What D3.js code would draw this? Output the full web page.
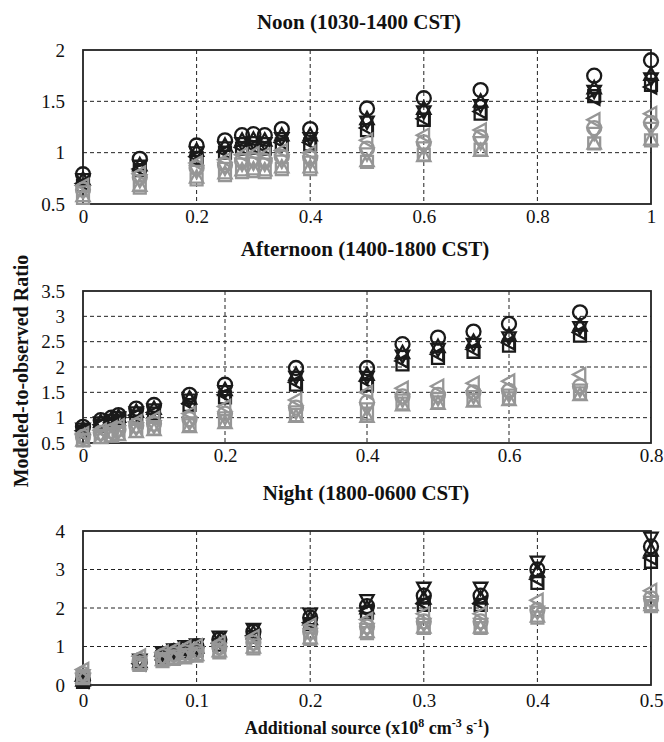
<!DOCTYPE html>
<html><head><meta charset="utf-8">
<script src="https://cdn.jsdelivr.net/npm/d3@7"></script>
<style>body{margin:0;background:#fff}svg{display:block}</style>
</head><body>
<script>
// ---------- DATA ----------
const shapes = ["circle","triUp","triDown","triLeft","square"];

const noonX = [0, 0.1, 0.2, 0.25, 0.28, 0.3, 0.32, 0.35, 0.4, 0.5, 0.6, 0.7, 0.9, 1.0];
const noonBlack = {
  circle:  [0.79,0.94,1.07,1.12,1.17,1.18,1.17,1.23,1.23,1.43,1.53,1.61,1.75,1.90],
  triUp:   [0.74,0.88,1.02,1.07,1.12,1.13,1.12,1.17,1.17,1.33,1.43,1.50,1.63,1.76],
  triDown: [0.74,0.87,1.00,1.05,1.09,1.10,1.09,1.14,1.14,1.30,1.40,1.46,1.60,1.72],
  triLeft: [0.70,0.84,0.96,1.01,1.05,1.06,1.05,1.10,1.10,1.24,1.33,1.40,1.53,1.64],
  square:  [0.68,0.83,0.95,1.00,1.04,1.05,1.04,1.08,1.08,1.22,1.32,1.38,1.55,1.66]
};
const noonGray = {
  triLeft: [0.68,0.80,0.90,0.93,0.98,0.99,0.98,1.02,1.00,1.12,1.17,1.22,1.32,1.38],
  circle:  [0.64,0.76,0.85,0.88,0.92,0.93,0.92,0.96,0.95,1.04,1.10,1.15,1.24,1.29],
  triDown: [0.62,0.73,0.82,0.85,0.89,0.90,0.89,0.92,0.91,0.99,1.05,1.10,1.19,1.24],
  square:  [0.56,0.66,0.74,0.78,0.81,0.82,0.81,0.84,0.84,0.91,0.98,1.03,1.09,1.12],
  triUp:   [0.58,0.68,0.76,0.80,0.83,0.84,0.83,0.86,0.86,0.92,0.97,1.02,1.09,1.13]
};

const aftX = [0, 0.025, 0.04, 0.05, 0.075, 0.1, 0.15, 0.2, 0.3, 0.4, 0.45, 0.5, 0.55, 0.6, 0.7];
const aftBlack = {
  circle:  [0.82,0.95,1.00,1.05,1.18,1.25,1.45,1.65,1.98,1.98,2.45,2.58,2.70,2.85,3.08],
  triUp:   [0.78,0.92,0.97,1.02,1.12,1.18,1.38,1.55,1.85,1.85,2.28,2.40,2.50,2.62,2.82],
  triDown: [0.78,0.90,0.95,1.00,1.10,1.16,1.35,1.52,1.80,1.80,2.22,2.35,2.45,2.58,2.78],
  triLeft: [0.74,0.86,0.90,0.95,1.05,1.10,1.28,1.45,1.70,1.72,2.12,2.25,2.35,2.48,2.68],
  square:  [0.72,0.84,0.88,0.92,1.02,1.08,1.25,1.40,1.65,1.65,2.05,2.18,2.30,2.42,2.62]
};
const aftGray = {
  triLeft: [0.68,0.75,0.80,0.84,0.92,0.98,1.08,1.22,1.35,1.50,1.58,1.62,1.68,1.72,1.85],
  circle:  [0.62,0.70,0.73,0.77,0.84,0.88,0.97,1.08,1.20,1.30,1.42,1.45,1.50,1.53,1.62],
  triDown: [0.58,0.66,0.69,0.73,0.79,0.83,0.90,1.00,1.12,1.18,1.35,1.38,1.42,1.45,1.55],
  square:  [0.55,0.62,0.65,0.68,0.74,0.78,0.85,0.93,1.05,1.08,1.28,1.30,1.35,1.38,1.48],
  triUp:   [0.55,0.60,0.63,0.66,0.72,0.76,0.82,0.90,1.02,1.02,1.25,1.28,1.32,1.35,1.45]
};

const nightX = [0, 0.05, 0.07, 0.08, 0.09, 0.1, 0.12, 0.15, 0.2, 0.25, 0.3, 0.35, 0.4, 0.5];
const nightBlack = {
  triDown: [0.15,0.65,0.85,0.92,1.00,1.05,1.25,1.45,1.85,2.20,2.52,2.52,3.20,3.82],
  circle:  [0.12,0.60,0.80,0.88,0.95,1.00,1.18,1.38,1.75,2.05,2.32,2.32,3.00,3.60],
  triUp:   [0.12,0.60,0.80,0.87,0.93,0.98,1.15,1.35,1.72,2.00,2.25,2.25,2.95,3.50],
  triLeft: [0.10,0.55,0.75,0.82,0.88,0.92,1.08,1.28,1.62,1.92,2.12,2.12,2.75,3.30],
  square:  [0.08,0.52,0.72,0.80,0.85,0.90,1.05,1.25,1.58,1.88,2.08,2.08,2.65,3.20]
};
const nightGray = {
  triLeft: [0.40,0.75,0.85,0.92,0.98,1.02,1.10,1.25,1.55,1.70,1.85,1.85,2.20,2.45],
  circle:  [0.28,0.65,0.75,0.80,0.85,0.88,0.98,1.10,1.38,1.52,1.65,1.65,1.95,2.25],
  triDown: [0.25,0.60,0.70,0.76,0.80,0.84,0.94,1.05,1.32,1.45,1.58,1.58,1.90,2.15],
  square:  [0.18,0.52,0.62,0.68,0.72,0.76,0.85,0.95,1.20,1.35,1.48,1.48,1.75,2.05],
  triUp:   [0.20,0.55,0.65,0.70,0.74,0.78,0.88,0.98,1.22,1.38,1.50,1.50,1.78,2.08]
};

const noonXTicks = [0,0.2,0.4,0.6,0.8,1];
const noonYTicks = [0.5,1,1.5,2];
const aftXTicks = [0,0.2,0.4,0.6,0.8];
const aftYTicks = [0.5,1,1.5,2,2.5,3,3.5];
const nightXTicks = [0,0.1,0.2,0.3,0.4,0.5];
const nightYTicks = [0,1,2,3,4];

const titles = ["Noon (1030-1400 CST)","Afternoon (1400-1800 CST)","Night (1800-0600 CST)"];

// ---------- DRAW ----------
const W = 664, H = 742;
const svg = d3.select("body").append("svg").attr("width",W).attr("height",H);
const FONT = "'Liberation Serif','Times New Roman',serif";
const BLACK = "#1a1a1a", GRAY = "#969696";

function shapePath(type, r){
  switch(type){
    case "circle": return d3.symbol(d3.symbolCircle, Math.PI*r*r)();
    case "square": return `M${-r*0.85},${-r*0.85}H${r*0.85}V${r*0.85}H${-r*0.85}Z`;
    case "triUp": return `M0,${-r}L${r*0.95},${r*0.75}L${-r*0.95},${r*0.75}Z`;
    case "triDown": return `M0,${r}L${r*0.95},${-r*0.75}L${-r*0.95},${-r*0.75}Z`;
    case "triLeft": return `M${-r},0L${r*0.75},${-r*0.95}L${r*0.75},${r*0.95}Z`;
  }
}

const panels = [
  {title:titles[0], xs:noonX, black:noonBlack, gray:noonGray, xd:[0,1], yd:[0.5,2], xt:noonXTicks, yt:noonYTicks, top:50, bottom:204, titleY:29, titleX:359, xpad:6},
  {title:titles[1], xs:aftX, black:aftBlack, gray:aftGray, xd:[0,0.8], yd:[0.5,3.5], xt:aftXTicks, yt:aftYTicks, top:291, bottom:443, titleY:256, titleX:365, xpad:6},
  {title:titles[2], xs:nightX, black:nightBlack, gray:nightGray, xd:[0,0.5], yd:[0,4], xt:nightXTicks, yt:nightYTicks, top:531, bottom:685, titleY:500, titleX:366, xpad:9}
];
const left = 83, right = 651;

panels.forEach(p=>{
  const x = d3.scaleLinear().domain(p.xd).range([left,right]);
  const y = d3.scaleLinear().domain(p.yd).range([p.bottom,p.top]);
  const g = svg.append("g");
  // grid
  g.selectAll(".gy").data(p.yt.slice(1,-1)).join("line")
    .attr("x1",left).attr("x2",right).attr("y1",d=>y(d)).attr("y2",d=>y(d))
    .attr("stroke","#222").attr("stroke-width",1).attr("stroke-dasharray","4,3");
  g.selectAll(".gx").data(p.xt.slice(1,-1)).join("line")
    .attr("y1",p.top).attr("y2",p.bottom).attr("x1",d=>x(d)).attr("x2",d=>x(d))
    .attr("stroke","#222").attr("stroke-width",1).attr("stroke-dasharray","4,3");
  // axes
  const xa = g.append("g").attr("transform",`translate(0,${p.bottom})`)
    .call(d3.axisBottom(x).tickValues(p.xt).tickSize(0).tickPadding(p.xpad).tickFormat(d3.format("~g")));
  const ya = g.append("g").attr("transform",`translate(${left},0)`)
    .call(d3.axisLeft(y).tickValues(p.yt).tickSize(0).tickPadding(18).tickFormat(d3.format("~g")));
  [xa,ya].forEach(a=>{
    a.select(".domain").remove();
    a.selectAll("text").attr("font-family",FONT).attr("font-size",19).attr("fill","#111");
  });
  // border
  g.append("rect").attr("x",left).attr("y",p.top).attr("width",right-left).attr("height",p.bottom-p.top)
    .attr("fill","none").attr("stroke","#222").attr("stroke-width",1.8);
  // title
  svg.append("text").attr("x",p.titleX).attr("y",p.titleY).attr("text-anchor","middle")
    .attr("font-family",FONT).attr("font-weight","bold").attr("font-size",21).attr("fill","#111").text(p.title);
  // markers
  [[p.black,BLACK],[p.gray,GRAY]].forEach(([grp,col])=>{
    Object.keys(grp).forEach(sh=>{
      const pts = p.xs.map((xv,i)=>({x:xv,y:grp[sh][i]}));
      g.append("g").selectAll("path").data(pts).join("path")
        .attr("transform",d=>`translate(${x(d.x)},${y(d.y)})`)
        .attr("d",shapePath(sh,7))
        .attr("fill","none").attr("stroke",col).attr("stroke-width",2.3);
    });
  });
});

// axis titles
svg.append("text").attr("transform","translate(28,371) rotate(-90)").attr("text-anchor","middle")
  .attr("font-family",FONT).attr("font-weight","bold").attr("font-size",20).attr("fill","#111")
  .text("Modeled-to-observed Ratio");
const xt = svg.append("text").attr("x",367).attr("y",734).attr("text-anchor","middle")
  .attr("font-family",FONT).attr("font-weight","bold").attr("font-size",18).attr("fill","#111");
xt.append("tspan").text("Additional source (x10");
xt.append("tspan").attr("dy",-7).attr("font-size",12).text("8");
xt.append("tspan").attr("dy",7).text(" cm");
xt.append("tspan").attr("dy",-7).attr("font-size",12).text("-3");
xt.append("tspan").attr("dy",7).text(" s");
xt.append("tspan").attr("dy",-7).attr("font-size",12).text("-1");
xt.append("tspan").attr("dy",7).text(")");
</script>
</body></html>
